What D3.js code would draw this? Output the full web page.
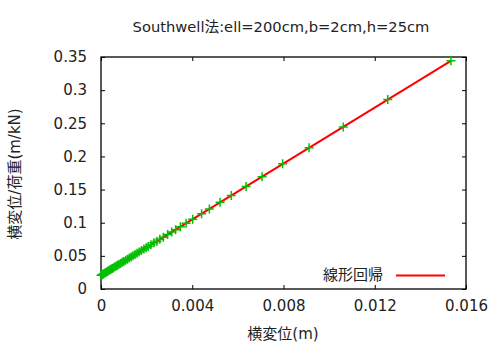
<!DOCTYPE html>
<html>
<head>
<meta charset="utf-8">
<script src="https://cdn.jsdelivr.net/npm/d3@7"></script>
<style>
  body { margin: 0; background: #fff; }
  text { font-family: "DejaVu Sans", "Noto Sans CJK JP", sans-serif; fill: #222; }
</style>
</head>
<body>
<div id="chart"></div>
<script>
// chart size and plot box
var width = 500,
    height = 350,
    margin = {top: 57, right: 34, bottom: 61, left: 101}

// data: lateral displacement (m) vs displacement / load (m/kN)
var dispX = [0, 0.00004, 0.00008, 0.00012, 0.00017, 0.00021, 0.00026, 0.0003, 0.00035, 0.0004,
  0.00045, 0.0005, 0.00055, 0.00061, 0.00067, 0.00073, 0.00079, 0.00086, 0.00093, 0.001,
  0.00108, 0.00116, 0.00124, 0.00132, 0.0014, 0.00149, 0.00158, 0.00167, 0.00177, 0.00188,
  0.00198, 0.00207, 0.00219, 0.00232, 0.00245, 0.00258, 0.00273, 0.00292, 0.0031, 0.00327,
  0.00348, 0.00373, 0.00402, 0.00441, 0.00475, 0.00522, 0.00571, 0.00636, 0.00706, 0.00796,
  0.00912, 0.01062, 0.01257, 0.01534]
var ratioY = [0.0208, 0.0213, 0.0222, 0.023, 0.0241, 0.0249, 0.0262, 0.0268, 0.0281, 0.0289,
  0.0302, 0.031, 0.0322, 0.0334, 0.0348, 0.0359, 0.0374, 0.0386, 0.0403, 0.0416,
  0.0434, 0.045, 0.0468, 0.0484, 0.0501, 0.052, 0.0539, 0.0558, 0.058, 0.0602,
  0.0624, 0.0642, 0.0668, 0.0696, 0.0722, 0.075, 0.0781, 0.0822, 0.0859, 0.0895,
  0.094, 0.0993, 0.1054, 0.1134, 0.1207, 0.1308, 0.141, 0.1546, 0.1695, 0.189,
  0.213, 0.2444, 0.2858, 0.3443]

var xTicks = [0, 0.004, 0.008, 0.012, 0.016]
var yTicks = [0, 0.05, 0.1, 0.15, 0.2, 0.25, 0.3, 0.35]

var titleText = "Southwell法:ell=200cm,b=2cm,h=25cm"
var xLabel = "横変位(m)"
var yLabel = "横変位/荷重(m/kN)"
var legendText = "線形回帰"

var points = dispX.map(function(d, i) { return {x: d, y: ratioY[i]} })

// least squares fit
var mx = d3.mean(dispX), my = d3.mean(ratioY)
var slope = d3.sum(points, function(p) { return (p.x - mx) * (p.y - my) }) /
            d3.sum(points, function(p) { return (p.x - mx) * (p.x - mx) })
var intercept = my - slope * mx
var fitX = d3.extent(dispX)

var svg = d3.select("#chart")
  .append("svg")
    .attr("width", width)
    .attr("height", height)

var x = d3.scaleLinear().domain([0, 0.016]).range([margin.left, width - margin.right])
var y = d3.scaleLinear().domain([0, 0.35]).range([height - margin.bottom, margin.top])

// inward ticks on all four sides, like gnuplot
var tick = 4
svg.append("g")
  .attr("transform", "translate(0," + (height - margin.bottom) + ")")
  .call(d3.axisBottom(x).tickValues(xTicks).tickSizeInner(-tick).tickSizeOuter(0).tickPadding(11)
    .tickFormat(function(d) { return d === 0 ? "0" : d3.format(".3f")(d) }))
  .call(function(g) { g.select(".domain").remove() })
svg.append("g")
  .attr("transform", "translate(0," + margin.top + ")")
  .call(d3.axisTop(x).tickValues(xTicks).tickSizeInner(-tick).tickSizeOuter(0).tickFormat(""))
  .call(function(g) { g.select(".domain").remove() })
svg.append("g")
  .attr("transform", "translate(" + margin.left + ",0)")
  .call(d3.axisLeft(y).tickValues(yTicks).tickSizeInner(-tick).tickSizeOuter(0).tickPadding(14)
    .tickFormat(function(d) { return d === 0 ? "0" : d3.format("")(+d.toFixed(2)) }))
  .call(function(g) { g.select(".domain").remove() })
svg.append("g")
  .attr("transform", "translate(" + (width - margin.right) + ",0)")
  .call(d3.axisRight(y).tickValues(yTicks).tickSizeInner(-tick).tickSizeOuter(0).tickFormat(""))
  .call(function(g) { g.select(".domain").remove() })

svg.selectAll(".tick line").attr("stroke", "#000")
svg.selectAll(".tick text")
  .style("font-family", "'DejaVu Sans', sans-serif")
  .style("font-size", "15px")
  .attr("fill", "#222")

// border box
svg.append("rect")
  .attr("x", margin.left)
  .attr("y", margin.top)
  .attr("width", width - margin.left - margin.right)
  .attr("height", height - margin.top - margin.bottom)
  .attr("fill", "none")
  .attr("stroke", "#000")
  .attr("stroke-width", 1.3)

// regression line
svg.append("line")
  .attr("x1", x(fitX[0])).attr("y1", y(intercept + slope * fitX[0]))
  .attr("x2", x(fitX[1])).attr("y2", y(intercept + slope * fitX[1]))
  .attr("stroke", "#ff0000")
  .attr("stroke-width", 2)

// data points as "+"
var s = 4.5
svg.append("g").selectAll("path")
  .data(points)
  .enter()
  .append("path")
    .attr("d", function(p) {
      var px = x(p.x), py = y(p.y)
      return "M" + (px - s) + "," + py + "H" + (px + s) + "M" + px + "," + (py - s) + "V" + (py + s)
    })
    .attr("stroke", "#00c000")
    .attr("stroke-width", 1.5)
    .attr("fill", "none")

// legend
svg.append("text")
  .attr("x", 383).attr("y", 280)
  .attr("text-anchor", "end")
  .style("font-size", "15px")
  .text(legendText)
svg.append("line")
  .attr("x1", 396).attr("x2", 445)
  .attr("y1", 275.5).attr("y2", 275.5)
  .attr("stroke", "#ff0000")
  .attr("stroke-width", 2)

// titles
svg.append("text")
  .attr("x", 281).attr("y", 32)
  .attr("text-anchor", "middle")
  .style("font-size", "14.7px")
  .text(titleText)
svg.append("text")
  .attr("x", 283).attr("y", 339)
  .attr("text-anchor", "middle")
  .style("font-size", "15px")
  .text(xLabel)
svg.append("text")
  .attr("transform", "translate(20,174) rotate(-90)")
  .attr("text-anchor", "middle")
  .style("font-size", "15px")
  .text(yLabel)
</script>
</body>
</html>
